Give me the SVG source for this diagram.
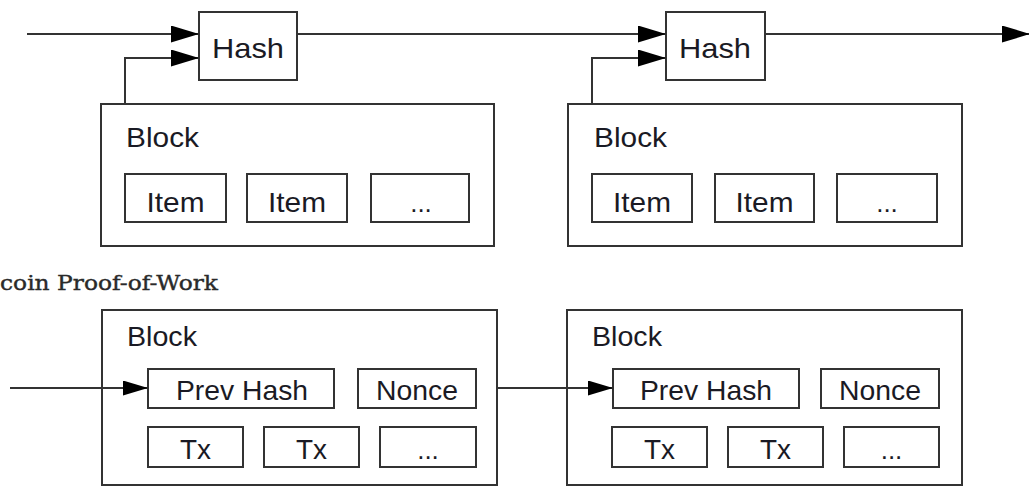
<svg xmlns="http://www.w3.org/2000/svg" width="1029" height="486" viewBox="0 0 1029 486">
<defs>
<style>
.box{fill:#fff;stroke:#333;stroke-width:2}
.ln{fill:none;stroke:#333;stroke-width:2}
.t{font-family:"Liberation Sans",Arial,sans-serif;font-size:28px;fill:#1a1a24;text-anchor:middle}
.tb{font-family:"Liberation Sans",Arial,sans-serif;font-size:26px;fill:#1a1a24;text-anchor:middle}
.tl{font-family:"Liberation Sans",Arial,sans-serif;font-size:27px;fill:#1a1a24}
.cap{font-family:"DejaVu Serif","Liberation Serif",serif;font-size:21px;fill:#2a2a2a;stroke:#2a2a2a;stroke-width:0.4}
</style>
<marker id="big" viewBox="0 0 28 17" refX="28" refY="8.5" markerWidth="28" markerHeight="17" markerUnits="userSpaceOnUse" orient="auto">
<path d="M0,0 L28,8.5 L0,17 Z" fill="#000"/>
</marker>
<marker id="small" viewBox="0 0 25 15" refX="25" refY="7.5" markerWidth="25" markerHeight="15" markerUnits="userSpaceOnUse" orient="auto">
<path d="M0,0 L25,7.5 L0,15 Z" fill="#000"/>
</marker>
</defs>
<rect width="1029" height="486" fill="#fff"/>

<g id="hash1">
<rect class="box" x="199" y="12" width="98" height="68"/>
<text class="t" x="248" y="58" textLength="72" lengthAdjust="spacingAndGlyphs">Hash</text>
</g>
<g id="hash2">
<rect class="box" x="666" y="12" width="99" height="68"/>
<text class="t" x="715" y="58" textLength="72" lengthAdjust="spacingAndGlyphs">Hash</text>
</g>

<g id="block1">
<rect class="box" x="101" y="104" width="393" height="142"/>
<text class="tl" x="126" y="147" textLength="73" lengthAdjust="spacingAndGlyphs">Block</text>
<rect class="box" x="125" y="174" width="101" height="48"/>
<text class="t" x="175.5" y="212" textLength="58" lengthAdjust="spacingAndGlyphs">Item</text>
<rect class="box" x="247" y="174" width="100" height="48"/>
<text class="t" x="297" y="212" textLength="58" lengthAdjust="spacingAndGlyphs">Item</text>
<rect class="box" x="371" y="174" width="98" height="48"/>
<text class="tb" x="421" y="212">...</text>
</g>
<g id="block2">
<rect class="box" x="568" y="104" width="394" height="142"/>
<text class="tl" x="594" y="147" textLength="73" lengthAdjust="spacingAndGlyphs">Block</text>
<rect class="box" x="592" y="174" width="100" height="48"/>
<text class="t" x="642" y="212" textLength="58" lengthAdjust="spacingAndGlyphs">Item</text>
<rect class="box" x="715" y="174" width="99" height="48"/>
<text class="t" x="764.5" y="212" textLength="58" lengthAdjust="spacingAndGlyphs">Item</text>
<rect class="box" x="837" y="174" width="100" height="48"/>
<text class="tb" x="887" y="212">...</text>
</g>

<g id="caption">
<text class="cap" x="0" y="290" textLength="218" lengthAdjust="spacingAndGlyphs">coin Proof-of-Work</text>
</g>

<g id="pow-block1">
<rect class="box" x="102" y="310" width="395" height="175"/>
<text class="tl" x="127" y="346" textLength="70" lengthAdjust="spacingAndGlyphs">Block</text>
<rect class="box" x="148" y="369" width="186" height="39"/>
<text class="t" x="242" y="400" textLength="132" lengthAdjust="spacingAndGlyphs">Prev Hash</text>
<rect class="box" x="358" y="369" width="118" height="39"/>
<text class="t" x="417" y="400" textLength="82" lengthAdjust="spacingAndGlyphs">Nonce</text>
<rect class="box" x="148" y="427" width="95" height="40"/>
<text class="t" x="195.5" y="459" textLength="31" lengthAdjust="spacingAndGlyphs">Tx</text>
<rect class="box" x="264" y="427" width="95" height="40"/>
<text class="t" x="311.5" y="459" textLength="31" lengthAdjust="spacingAndGlyphs">Tx</text>
<rect class="box" x="380" y="427" width="96" height="40"/>
<text class="tb" x="428" y="459">...</text>
</g>
<g id="pow-block2">
<rect class="box" x="567" y="310" width="395" height="175"/>
<text class="tl" x="592" y="346" textLength="70" lengthAdjust="spacingAndGlyphs">Block</text>
<rect class="box" x="613" y="369" width="186" height="39"/>
<text class="t" x="706" y="400" textLength="132" lengthAdjust="spacingAndGlyphs">Prev Hash</text>
<rect class="box" x="821" y="369" width="118" height="39"/>
<text class="t" x="880" y="400" textLength="82" lengthAdjust="spacingAndGlyphs">Nonce</text>
<rect class="box" x="612" y="427" width="95" height="40"/>
<text class="t" x="659.5" y="459" textLength="31" lengthAdjust="spacingAndGlyphs">Tx</text>
<rect class="box" x="728" y="427" width="95" height="40"/>
<text class="t" x="775.5" y="459" textLength="31" lengthAdjust="spacingAndGlyphs">Tx</text>
<rect class="box" x="844" y="427" width="95" height="40"/>
<text class="tb" x="891.5" y="459">...</text>
</g>

<g id="connectors">
<path class="ln" d="M27,34 H199" marker-end="url(#big)"/>
<path class="ln" d="M125,104 V58 H199" marker-end="url(#big)"/>
<path class="ln" d="M297,34 H666" marker-end="url(#big)"/>
<path class="ln" d="M592,104 V58 H666" marker-end="url(#big)"/>
<path class="ln" d="M765,34 H1030" marker-end="url(#big)"/>
<path class="ln" d="M10,388 H148" marker-end="url(#small)"/>
<path class="ln" d="M497,388 H613" marker-end="url(#small)"/>
</g>
</svg>
